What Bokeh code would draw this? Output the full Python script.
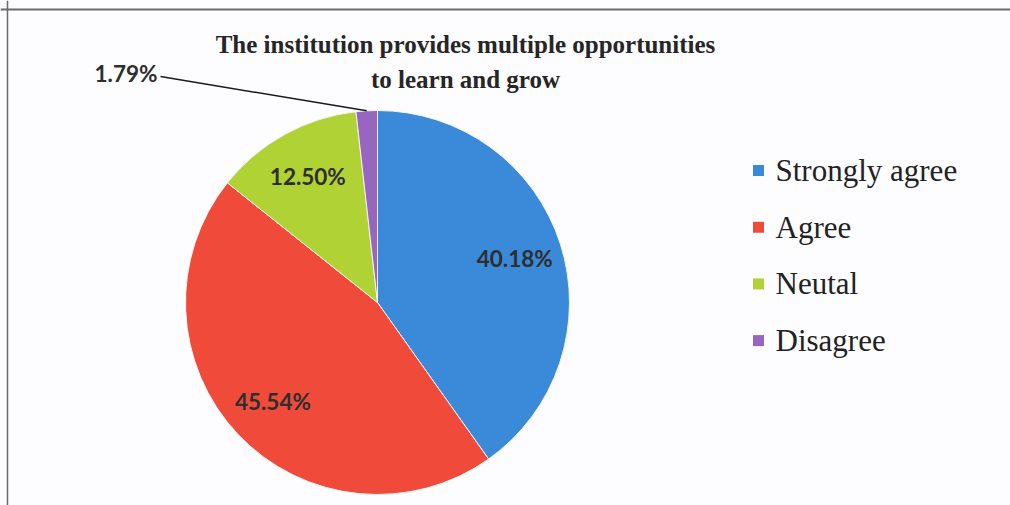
import math
from bokeh.plotting import figure
from bokeh.models import Range1d, ColumnDataSource, Span
from bokeh.core.properties import value
from bokeh.embed import file_html
from bokeh.resources import INLINE

# ---- data ----
title_lines = ["The institution provides multiple opportunities", "to learn and grow"]
categories = ["Strongly agree", "Agree", "Neutal", "Disagree"]
percents = [40.18, 45.54, 12.50, 1.79]
labels = ["40.18%", "45.54%", "12.50%", "1.79%"]
colors = ["#3A8AD9", "#F04B3A", "#B0D235", "#9866C0"]

W, H = 1010, 505
def Y(pix):
    return H - pix

p = figure(width=W, height=H, output_backend="svg", toolbar_location=None,
           x_range=Range1d(0, W), y_range=Range1d(0, H),
           min_border=0, background_fill_color="#FDFCFE",
           border_fill_color="#FDFCFE")
p.axis.visible = False
p.grid.visible = False
p.outline_line_color = None

# border (top and left visible in reference)
p.add_layout(Span(location=Y(9), dimension="width", line_color="#6A6A6A", line_width=2))
p.add_layout(Span(location=7, dimension="height", line_color="#6A6A6A", line_width=1.5))

# ---- pie ----
cx, cy, R = 377, Y(302), 192
total = sum(percents)
starts, ends, mids = [], [], []
cum = 0.0
for v in percents:
    a0 = math.radians(90 - cum / total * 360)
    cum += v
    a1 = math.radians(90 - cum / total * 360)
    starts.append(a0)
    ends.append(a1)
    mids.append((a0 + a1) / 2)

src = ColumnDataSource(dict(start=starts, end=ends, color=colors))
p.wedge(x=cx, y=cy, radius=R, start_angle="start", end_angle="end",
        direction="clock", fill_color="color",
        line_color="#F4F4F4", line_width=1, source=src)

# inside labels
lr = 0.75 * R
lx, ly, lt = [], [], []
for i in range(3):
    m = mids[i]
    lx.append(cx + lr * math.cos(m))
    ly.append(cy + lr * math.sin(m))
    lt.append(labels[i])
p.text(x=lx, y=ly, text=lt, text_font=value("Lato"), text_font_style="bold",
       text_font_size="22.5px", text_color="#2E2E2E", text_align="center",
       text_baseline="middle")

# outside label for smallest slice with leader line
m = mids[3]
ex, ey = cx + R * math.cos(m), cy + R * math.sin(m)
p.line(x=[160, ex], y=[Y(76), ey], line_color="#1A1A1A", line_width=1.5)
p.text(x=[157], y=[Y(73)], text=[labels[3]], text_font=value("Lato"),
       text_font_style="bold", text_font_size="22.5px", text_color="#2E2E2E",
       text_align="right", text_baseline="middle")

# ---- title ----
p.text(x=[465, 465], y=[Y(44), Y(79)], text=title_lines,
       text_font=value("Liberation Serif"), text_font_style="bold",
       text_font_size="25px", text_color="#262626", text_align="center",
       text_baseline="middle")

# ---- legend ----
ly0, dy = 170, 56.7
leg_y = [Y(ly0 + i * dy) for i in range(len(categories))]
p.rect(x=[758] * len(categories), y=leg_y, width=11, height=11,
       fill_color=colors, line_color=None)
p.text(x=[775] * len(categories), y=leg_y, text=categories,
       text_font=value("Liberation Serif"), text_font_size="31px",
       text_color="#222222", text_align="left", text_baseline="middle")

open("out.html", "w").write(file_html(p, INLINE))
